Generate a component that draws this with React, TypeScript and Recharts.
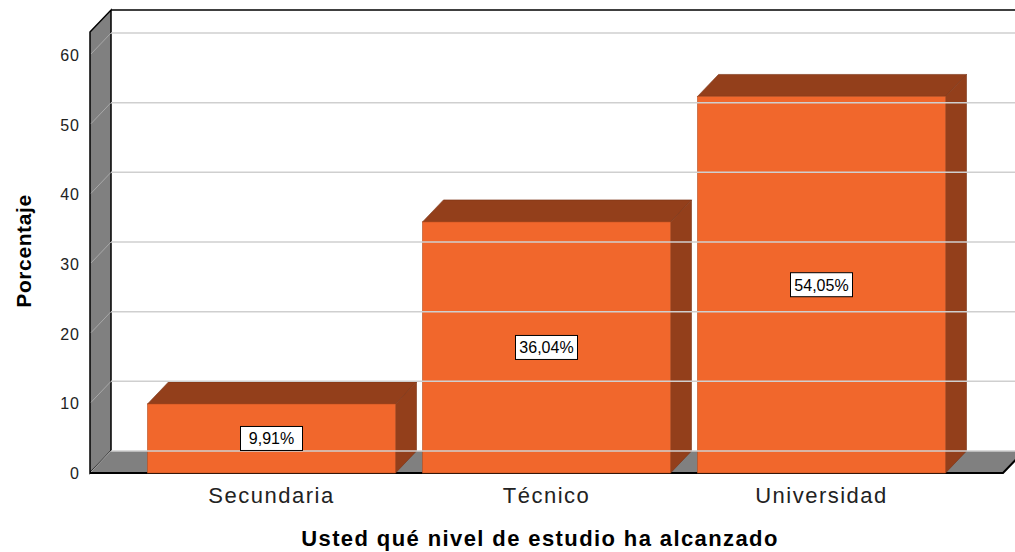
import React from "react";
import {
    BarChart,
    Bar,
    XAxis,
    YAxis,
    ReferenceArea,
    ReferenceLine,
    LabelList,
    Label
} from "recharts";

// datos del grafico
const CATEGORIES = ["Secundaria", "Técnico", "Universidad"];
const PERCENTAGES = [9.91, 36.04, 54.05];
const Y_TICKS = [0, 10, 20, 30, 40, 50, 60];
const Y_MAX = 63.3;

const X_TITLE = "Usted qué nivel de estudio ha alcanzado";
const Y_TITLE = "Porcentaje";

// profundidad 3D y relleno lateral del eje X
const DX = 21;
const DY = 22;
const PAD = 44;

const FRONT = "#F1672C";
const DARK = "#933F1B";
const WALL = "#808080";
const FONT = "'Liberation Sans', Arial, sans-serif";

const data = CATEGORIES.map((nivel, i) => ({ nivel, porcentaje: PERCENTAGES[i] }));

const fmt = (v: number) => v.toFixed(2).replace(".", ",") + "%";

const Walls = (props: any) => {
    // el area recibe el rango sin el padding, se lo devolvemos
    const x = props.x - PAD;
    const w = props.width + 2 * PAD;
    const { y, height: h } = props;
    return (
        <g>
            <rect x={x + DX} y={y - DY} width={w + 40} height={h} fill="#fff" />
            <line x1={x + DX} y1={y - DY} x2={x + w + DX + 40} y2={y - DY} stroke="#000" strokeWidth={1.5} />
            <polygon
                points={`${x},${y} ${x + DX},${y - DY} ${x + DX},${y + h - DY} ${x},${y + h}`}
                fill={WALL}
                stroke="#000"
                strokeWidth={1.5}
            />
            <polygon
                points={`${x},${y + h} ${x + DX},${y + h - DY} ${x + w + DX},${y + h - DY} ${x + w},${y + h}`}
                fill={WALL}
            />
            <polyline
                points={`${x},${y + h} ${x + w},${y + h} ${x + w + DX},${y + h - DY}`}
                fill="none"
                stroke="#000"
                strokeWidth={2}
            />
        </g>
    );
};

const GridLine = (props: any) => {
    const { x1, y1, x2 } = props;
    return (
        <g>
            <line x1={x1 + DX} y1={y1 - DY} x2={x2 + DX + 40} y2={y1 - DY} stroke="#cfcfcf" strokeWidth={1.5} />
            <line x1={x1 + 1} y1={y1 - 1} x2={x1 + DX} y2={y1 - DY} stroke="#a8a8a8" strokeWidth={1} />
        </g>
    );
};

const Box3D = (props: any) => {
    const { x, y, width: w, height: h } = props;
    return (
        <g>
            <polygon
                points={`${x},${y} ${x + DX},${y - DY} ${x + w + DX},${y - DY} ${x + w},${y}`}
                fill={DARK}
                stroke="#7a3214"
                strokeWidth={0.6}
            />
            <polygon
                points={`${x + w},${y} ${x + w + DX},${y - DY} ${x + w + DX},${y + h - DY} ${x + w},${y + h}`}
                fill={DARK}
                stroke="#7a3214"
                strokeWidth={0.6}
            />
            <rect x={x} y={y} width={w} height={h} fill={FRONT} stroke="#b24d20" strokeWidth={0.6} />
        </g>
    );
};

const ValueLabel = (props: any) => {
    const { x, y, width, height, value } = props;
    const cx = x + width / 2;
    const cy = y + height / 2;
    const bw = 62;
    const bh = 24;
    return (
        <g>
            <rect x={cx - bw / 2} y={cy - bh / 2} width={bw} height={bh} fill="#fff" stroke="#000" strokeWidth={1} />
            <text x={cx} y={cy + 6} textAnchor="middle" fontSize={16} fontFamily={FONT} fill="#000">
                {fmt(value)}
            </text>
        </g>
    );
};

const XTick = (props: any) => {
    const { x, y, payload } = props;
    return (
        <text x={x} y={y + 22} textAnchor="middle" fontSize={22} fontFamily={FONT} fill="#222" letterSpacing={1.5}>
            {payload.value}
        </text>
    );
};

const YTick = (props: any) => {
    const { x, y, payload } = props;
    return (
        <text x={x - 2} y={y + 6} textAnchor="end" fontSize={16} fontFamily={FONT} fill="#222" letterSpacing={1}>
            {payload.value}
        </text>
    );
};

export default function App() {
    return (
        <div style={{ position: "absolute", left: 0, top: 0, width: 1015, height: 552, background: "#fff" }}>
            <BarChart
                width={1015}
                height={552}
                data={data}
                margin={{ top: 32, right: 12, bottom: 39, left: 30 }}
                barCategoryGap={13.5}
            >
                <XAxis
                    dataKey="nivel"
                    axisLine={false}
                    tickLine={false}
                    height={40}
                    padding={{ left: PAD, right: PAD }}
                    tick={<XTick />}
                    interval={0}
                >
                    <Label
                        content={() => (
                            <text x={540} y={546} textAnchor="middle" fontSize={22} fontWeight="bold" fontFamily={FONT} fill="#000" letterSpacing={1.4}>
                                {X_TITLE}
                            </text>
                        )}
                    />
                </XAxis>
                <YAxis
                    type="number"
                    domain={[0, Y_MAX]}
                    ticks={Y_TICKS}
                    axisLine={false}
                    tickLine={false}
                    width={60}
                    tick={<YTick />}
                >
                    <Label
                        content={() => (
                            <text transform="translate(31,251) rotate(-90)" x={0} y={0} textAnchor="middle" fontSize={21} fontWeight="bold" fontFamily={FONT} fill="#000" letterSpacing={0.6}>
                                {Y_TITLE}
                            </text>
                        )}
                    />
                </YAxis>
                <ReferenceArea y1={0} y2={Y_MAX} shape={<Walls />} fill="none" stroke="none" />
                {Y_TICKS.map((t) => (
                    <ReferenceLine key={t} y={t} shape={<GridLine />} />
                ))}
                <Bar dataKey="porcentaje" shape={<Box3D />} isAnimationActive={false}>
                    <LabelList dataKey="porcentaje" content={<ValueLabel />} />
                </Bar>
            </BarChart>
        </div>
    );
}
